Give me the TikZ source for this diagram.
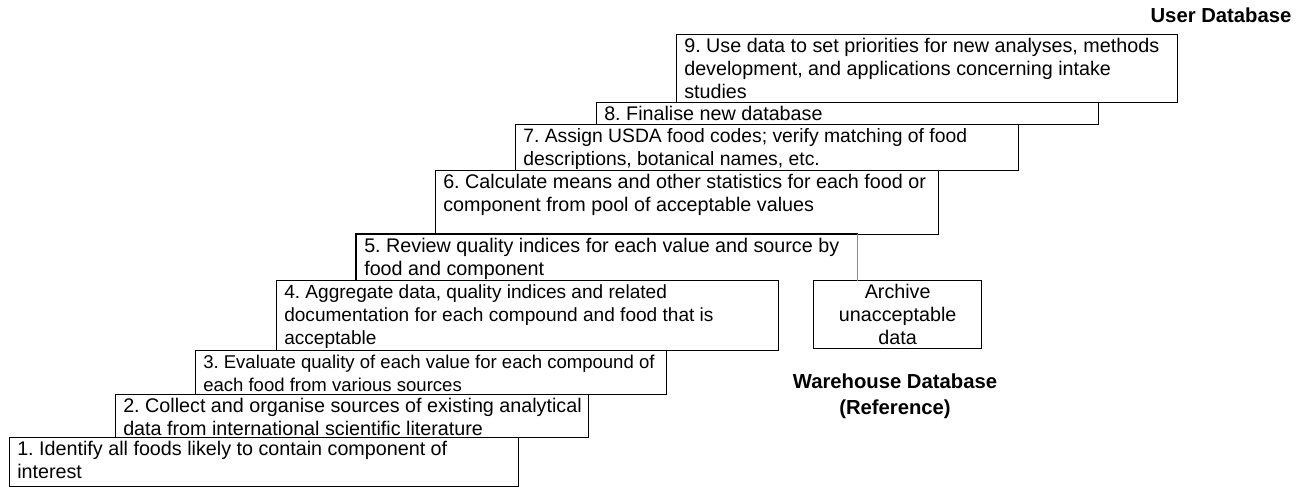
\documentclass[tikz,border=0pt]{standalone}
\usepackage{fontspec}
\setmainfont{Liberation Sans}
\frenchspacing
\newcommand\stepbx[6]{%
  \node[stepshape,#6,minimum width={(#4-#2)*0.75pt},minimum height={(#5-#3)*0.75pt}] (#1) at (#2,#3) {};}
\begin{document}
\begin{tikzpicture}[x=0.75pt,y=-0.75pt,
  boxline/.style={draw=black,line width=1pt},
  stepshape/.style={rectangle,inner sep=0pt,anchor=north west},
  steptext/.style={anchor=north west,align=left,inner xsep=6pt,inner ysep=3.3pt,
    font=\fontsize{14.8}{17.2}\selectfont},
  archtext/.style={align=center,inner sep=0pt,font=\fontsize{14.8}{17.2}\selectfont},
  dbtitle/.style={font=\fontsize{15.2}{19.5}\selectfont\bfseries,align=center,inner sep=0pt}]
\useasboundingbox (0,0) rectangle (1301,487);

% boxes
\stepbx{b9}{676}{34}{1177}{102}{boxline}
\stepbx{b8}{596}{102}{1098}{124}{boxline}
\stepbx{b7}{515}{124}{1018}{170}{boxline}
\stepbx{b6}{435}{170}{938}{234}{boxline}
\stepbx{b5}{356}{234}{857}{280}{}
\stepbx{b4}{276}{280}{778}{350}{boxline}
\stepbx{arch}{813}{280}{981}{348}{boxline}
\stepbx{b3}{195}{350}{666}{394}{boxline}
\stepbx{b2}{115}{394}{588}{437}{boxline}
\stepbx{b1}{9}{437}{518}{486}{boxline}

\draw[boxline] (b5.south west) -- (b5.north west) -- (b5.north east);
\draw[draw=black!45,line width=1pt] (b5.north east) -- (b5.south east);

% texts
\node[steptext] (t9) at (b9.north west) {9. Use data to set priorities for new analyses, methods\\development, and applications concerning intake\\studies};
\node[steptext] (t8) at (b8.north west) {8. Finalise new database};
\node[steptext,font=\fontsize{14.5}{17.2}\selectfont] (t7) at (b7.north west) {7. Assign USDA food codes; verify matching of food\\descriptions, botanical names, etc.};
\node[steptext] (t6) at (b6.north west) {6. Calculate means and other statistics for each food or\\component from pool of acceptable values};
\node[steptext] (t5) at (b5.north west) {5. Review quality indices for each value and source by\\food and component};
\node[steptext,font=\fontsize{14.3}{17.2}\selectfont] (t4) at (b4.north west) {4. Aggregate data, quality indices and related\\documentation for each compound and food that is\\acceptable};
\node[steptext,font=\fontsize{13.9}{17.2}\selectfont] (t3) at (b3.north west) {3. Evaluate quality of each value for each compound of\\each food from various sources};
\node[steptext] (t2) at (b2.north west) {2. Collect and organise sources of existing analytical\\data from international scientific literature};
\node[steptext] (t1) at (b1.north west) {1. Identify all foods likely to contain component of\\interest};
\node[archtext] (ta) at (arch.center) {Archive\\unacceptable\\data};

% titles
\node[dbtitle] (user) at (1221,15) {User Database};
\node[dbtitle] (ware) at (895,396) {Warehouse Database\\(Reference)};
\end{tikzpicture}
\end{document}
